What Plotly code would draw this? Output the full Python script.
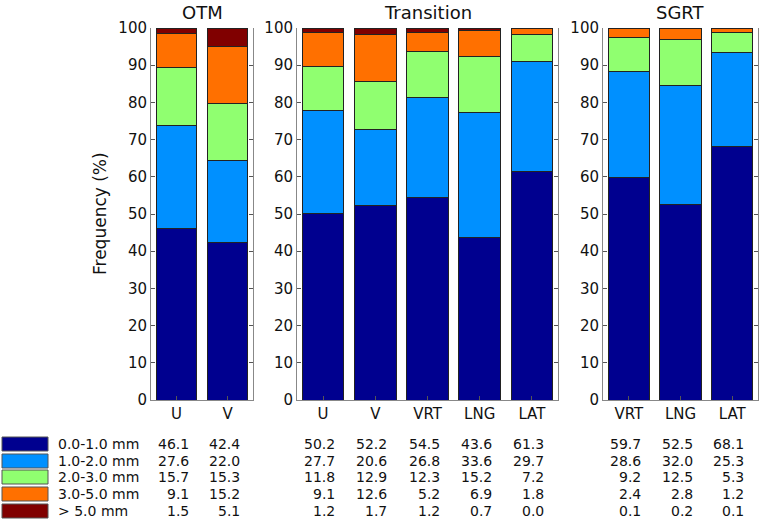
import plotly.graph_objects as go

groups = ["OTM", "Transition", "SGRT"]
categories = [["U", "V"], ["U", "V", "VRT", "LNG", "LAT"], ["VRT", "LNG", "LAT"]]
bins = ["0.0-1.0 mm", "1.0-2.0 mm", "2.0-3.0 mm", "3.0-5.0 mm", "> 5.0 mm"]
colors = ["#00008F", "#0090FF", "#90FF70", "#FF7000", "#800000"]

otm_vals = [
    [46.1, 42.4],
    [27.6, 22.0],
    [15.7, 15.3],
    [9.1, 15.2],
    [1.5, 5.1],
]
transition_vals = [
    [50.2, 52.2, 54.5, 43.6, 61.3],
    [27.7, 20.6, 26.8, 33.6, 29.7],
    [11.8, 12.9, 12.3, 15.2, 7.2],
    [9.1, 12.6, 5.2, 6.9, 1.8],
    [1.2, 1.7, 1.2, 0.7, 0.0],
]
sgrt_vals = [
    [59.7, 52.5, 68.1],
    [28.6, 32.0, 25.3],
    [9.2, 12.5, 5.3],
    [2.4, 2.8, 1.2],
    [0.1, 0.2, 0.1],
]
all_vals = [otm_vals, transition_vals, sgrt_vals]
yticks = [0, 10, 20, 30, 40, 50, 60, 70, 80, 90, 100]

W, H = 762, 523
xdom_px = [(151, 253), (297, 558), (603, 758)]
ytop_px, ybot_px = 28, 400
row_y_px = [444, 461, 477, 494, 511]

def px(x):
    return x / W

def py(y):
    return 1 - y / H

fig = go.Figure()
font = "DejaVu Sans, Verdana, sans-serif"
txt = "#111111"

for gi, (cats, vals) in enumerate(zip(categories, all_vals)):
    suffix = "" if gi == 0 else str(gi + 1)
    for bi in range(len(bins)):
        fig.add_trace(go.Bar(
            x=list(range(len(cats))), y=vals[bi],
            xaxis="x" + suffix, yaxis="y" + suffix,
            marker=dict(color=colors[bi], line=dict(color="#222222", width=1)),
            width=0.8, showlegend=False, hoverinfo="skip",
        ))
    ax = dict(
        domain=[px(xdom_px[gi][0]), px(xdom_px[gi][1])],
        range=[-0.5, len(cats) - 0.5],
        tickvals=list(range(len(cats))), ticktext=cats,
        ticks="inside", ticklen=4, tickcolor="#555555",
        showline=True, linecolor="#888888", linewidth=1, mirror=False,
        showgrid=False, zeroline=False, automargin=False,
        tickfont=dict(family=font, size=15, color=txt),
        anchor="y" + suffix, fixedrange=True,
    )
    ay = dict(
        domain=[py(ybot_px), py(ytop_px)],
        range=[0, 100],
        tickvals=yticks,
        ticks="inside", ticklen=4, tickcolor="#555555",
        showline=True, linecolor="#888888", linewidth=1, mirror="ticks",
        showgrid=False, zeroline=False, automargin=False,
        tickfont=dict(family=font, size=15, color=txt),
        anchor="x" + suffix, fixedrange=True,
    )
    fig.layout["xaxis" + suffix] = ax
    fig.layout["yaxis" + suffix] = ay

    # group title
    fig.add_annotation(
        text=groups[gi], xref="x" + suffix + " domain", yref="paper",
        x=0.5, y=py(12), xanchor="center", yanchor="middle",
        showarrow=False, font=dict(family=font, size=18, color=txt),
    )
    # table numbers
    for bi in range(len(bins)):
        for ci in range(len(cats)):
            fig.add_annotation(
                text=f"{vals[bi][ci]:.1f}", xref="x" + suffix, yref="paper",
                x=ci, y=py(row_y_px[bi]), xanchor="right", yanchor="middle",
                xshift=14, showarrow=False,
                font=dict(family=font, size=14, color=txt),
            )

# y-axis label
fig.add_annotation(
    text="Frequency (%)", xref="paper", yref="paper",
    x=px(100), y=py(214), xanchor="center", yanchor="middle", textangle=-90,
    showarrow=False, font=dict(family=font, size=17, color=txt),
)

# legend swatches and labels
for bi in range(len(bins)):
    yc = row_y_px[bi]
    fig.add_shape(
        type="rect", xref="paper", yref="paper",
        x0=px(2), x1=px(48), y0=py(yc - 7), y1=py(yc + 7),
        fillcolor=colors[bi], line=dict(color="#555555", width=1),
    )
    fig.add_annotation(
        text=bins[bi], xref="paper", yref="paper",
        x=px(56), y=py(yc), xanchor="left", yanchor="middle",
        showarrow=False, font=dict(family=font, size=14, color=txt),
    )

fig.update_layout(
    width=W, height=H,
    margin=dict(l=0, r=0, t=0, b=0, autoexpand=False),
    barmode="stack", bargap=0.2,
    paper_bgcolor="white", plot_bgcolor="white",
    font=dict(family=font),
)

fig.write_html(
    "out.html",
    config={"displayModeBar": False, "staticPlot": True},
    post_script="document.body.style.margin='0';document.body.style.overflow='hidden';",
)
